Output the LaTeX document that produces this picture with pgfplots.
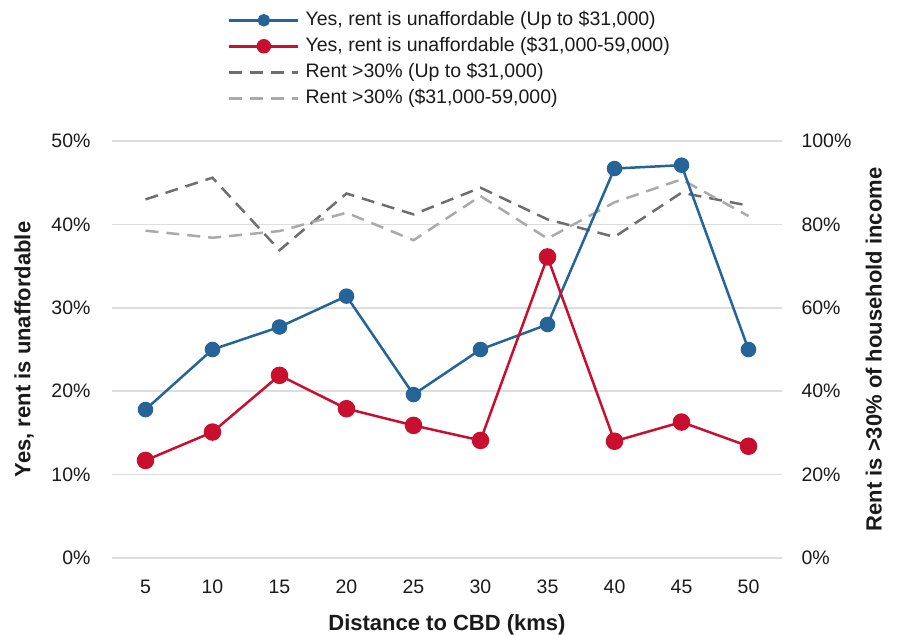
\documentclass[border=0pt]{standalone}
\usepackage{fontspec}
\setmainfont{Liberation Sans}
\usepackage{pgfplots}
\pgfplotsset{compat=1.18}

\definecolor{cblue}{HTML}{246498}
\definecolor{cred}{HTML}{C8102E}
\definecolor{cdark}{HTML}{6E6E6E}
\definecolor{clight}{HTML}{AAAAAA}
\definecolor{cgrid}{HTML}{DDDDDD}
\definecolor{ctext}{HTML}{1A1A1A}

\newcommand{\labfont}{\fontsize{22bp}{26bp}\selectfont\bfseries}
\newcommand{\txtfont}{\fontsize{19.5bp}{23bp}\selectfont}

\pgfplotsset{
    base/.style={
        width=670bp, height=417bp,
        scale only axis,
        xmin=2.5, xmax=52.5,
        xtick={5,10,...,50},
        axis line style={draw=none},
        major tick length=0pt,
        font=\txtfont,
        tick label style={font=\txtfont, text=ctext},
        /pgf/number format/assume math mode=true,
        },
    bluestyle/.style={color=cblue, line width=2.5bp, mark=*, mark size=6.5bp, mark options={solid}},
    redstyle/.style={color=cred, line width=2.5bp, mark=*, mark size=7.5bp, mark options={solid}},
    darkstyle/.style={color=cdark, line width=2.5bp, dash pattern=on 13bp off 8bp},
    lightstyle/.style={color=clight, line width=2.5bp, dash pattern=on 13bp off 8bp},
    longlegend/.style={
        legend image code/.code={
            \draw[mark repeat=2, mark phase=2, ##1]
                plot coordinates {(0bp,0bp) (34.5bp,0bp) (69bp,0bp)};
            },
        },
}

\begin{document}
\begin{tikzpicture}
    % right axis: the two dashed series, grid, x ticks and the legend
    \begin{axis}[
        base,
        longlegend,
        axis y line*=right,
        axis x line*=bottom,
        ymin=0, ymax=100,
        ytick={0,20,...,100},
        yticklabel={\pgfmathprintnumber{\tick}\%},
        yticklabel style={xshift=16bp},
        xticklabel style={anchor=center, yshift=-29bp},
        ymajorgrids,
        grid style={cgrid, line width=1.5bp},
        xlabel={Distance to CBD (kms)},
        ylabel={Rent is >30\% of household income},
        every axis x label/.style={at={(axis description cs:0.5,-0.161)}, anchor=center, text=ctext, font=\labfont},
        every axis y label/.style={at={(axis description cs:1.137,0.5)}, anchor=center, rotate=90, text=ctext, font=\labfont},
        legend style={
            at={(axis description cs:0.173,1.314)}, anchor=north west,
            draw=none, fill=none, inner sep=0pt,
            row sep=6bp, column sep=5bp,
            nodes={inner sep=1bp, text height=14bp, text depth=4bp, text=ctext},
            font=\txtfont,
            },
        legend cell align=left,
        ]
        \coordinate (sw) at (rel axis cs:0,0);
        \coordinate (ne) at (rel axis cs:1,1);

        \addlegendimage{bluestyle, mark size=5bp}
        \addlegendentry{Yes, rent is unaffordable (Up to \$31,000)}
        \addlegendimage{redstyle, mark size=6bp}
        \addlegendentry{Yes, rent is unaffordable (\$31,000-59,000)}

        \addplot[darkstyle] coordinates {
            (5,86.0)(10,91.2)(15,73.8)(20,87.4)(25,82.4)
            (30,88.8)(35,81.2)(40,77.0)(45,87.6)(50,84.5)
        };
        \addlegendentry{Rent >30\% (Up to \$31,000)}

        \addplot[lightstyle] coordinates {
            (5,78.5)(10,76.8)(15,78.4)(20,82.8)(25,76.2)
            (30,86.8)(35,76.6)(40,85.3)(45,90.8)(50,82.0)
        };
        \addlegendentry{Rent >30\% (\$31,000-59,000)}
    \end{axis}

    % left axis: the two solid series
    \begin{axis}[
        base,
        axis y line*=left,
        hide x axis,
        ymin=0, ymax=50,
        ytick={0,10,...,50},
        yticklabel={\pgfmathprintnumber{\tick}\%},
        yticklabel style={xshift=-18bp},
        ylabel={Yes, rent is unaffordable},
        every axis y label/.style={at={(axis description cs:-0.131,0.5)}, anchor=center, rotate=90, text=ctext, font=\labfont},
        ]
        \addplot[bluestyle] coordinates {
            (5,17.8)(10,25.0)(15,27.7)(20,31.4)(25,19.6)
            (30,25.0)(35,28.0)(40,46.7)(45,47.1)(50,25.0)
        };
        \addplot[redstyle] coordinates {
            (5,11.7)(10,15.1)(15,21.9)(20,17.9)(25,15.9)
            (30,14.1)(35,36.1)(40,14.0)(45,16.3)(50,13.4)
        };
    \end{axis}

    \pgfresetboundingbox
    \path[use as bounding box] ([shift={(-112bp,-77bp)}]sw) rectangle ([shift={(116bp,141bp)}]ne);
\end{tikzpicture}
\end{document}
